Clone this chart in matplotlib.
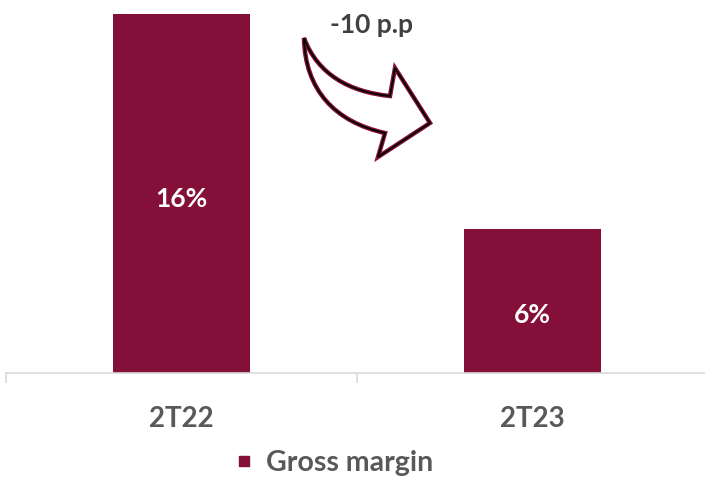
import matplotlib
matplotlib.use("Agg")
import matplotlib.pyplot as plt
from matplotlib.path import Path
from matplotlib.patches import PathPatch
from matplotlib.lines import Line2D

categories = ["2T22", "2T23"]
gross_margin = [16.0, 6.4]
value_labels = ["16%", "6%"]
series_name = "Gross margin"
change_label = "-10 p.p"

BAR = "#84103A"
TXT = "#595959"

plt.rcParams['font.family'] = ['Lato', 'DejaVu Sans']

W, H = 705, 483
fig = plt.figure(figsize=(W / 100, H / 100), dpi=100)
ax = fig.add_axes([6 / W, (H - 373) / H, 702 / W, 373 / H])

x = list(range(len(categories)))
ax.bar(x, gross_margin, width=0.39, color=BAR, zorder=2)
ax.set_xlim(-0.5, 1.5)
ax.set_ylim(0, 16.0 * 373 / 359)

for xi, v, lab in zip(x, gross_margin, value_labels):
    ax.text(xi, v / 2 - (0.25 if v > 10 else 0.6), lab, ha='center', va='center', color='white',
            fontsize=19, fontweight='bold')

for s in ['top', 'left', 'right']:
    ax.spines[s].set_visible(False)
ax.spines['bottom'].set_color('#D9D9D9')
ax.spines['bottom'].set_linewidth(1.2)
ax.set_yticks([])
ax.set_xticks(x)
ax.set_xticklabels(categories, fontsize=20, fontweight='bold', color=TXT)
ax.tick_params(axis='x', which='major', length=0, pad=24)
ax.set_xticks([-0.5, 0.5, 1.5], minor=True)
ax.tick_params(axis='x', which='minor', length=7, color='#D9D9D9', width=1.2)

# Curved arrow (figure pixel coords converted to figure fraction)
def P(px, py):
    return (px / W, 1 - py / H)

verts = [
    P(304, 38),
    P(318, 75), P(350, 92), P(390, 96),   # upper edge of shaft
    P(395, 68),                            # head upper point
    P(430, 123),                           # head tip
    P(378, 157),                           # head lower point
    P(385, 133),                           # lower inner corner
    P(335, 122), P(305, 90), P(304, 38),   # lower edge back to tail
    P(304, 38),
]
codes = [Path.MOVETO,
         Path.CURVE4, Path.CURVE4, Path.CURVE4,
         Path.LINETO, Path.LINETO, Path.LINETO, Path.LINETO,
         Path.CURVE4, Path.CURVE4, Path.CURVE4,
         Path.CLOSEPOLY]
path = Path(verts, codes)
fig.patches.append(PathPatch(path, transform=fig.transFigure, facecolor='white',
                             edgecolor=BAR, linewidth=3.2, joinstyle='miter'))
fig.patches.append(PathPatch(path, transform=fig.transFigure, facecolor='none',
                             edgecolor='black', linewidth=1.3, joinstyle='miter'))

fig.text(371 / W, 1 - 25 / H, change_label, ha='center', va='center', fontsize=19,
         fontweight='bold', color='#404040')

handle = Line2D([], [], marker='s', linestyle='none', markersize=7.5,
                markerfacecolor=BAR, markeredgecolor=BAR)
fig.legend([handle], [series_name], loc='center', bbox_to_anchor=(333 / W, 1 - 463 / H),
           frameon=False, prop={'size': 20.5, 'weight': 'bold'}, labelcolor=TXT,
           handletextpad=0.4, handlelength=0.8)

fig.savefig("out.png", dpi=100)
